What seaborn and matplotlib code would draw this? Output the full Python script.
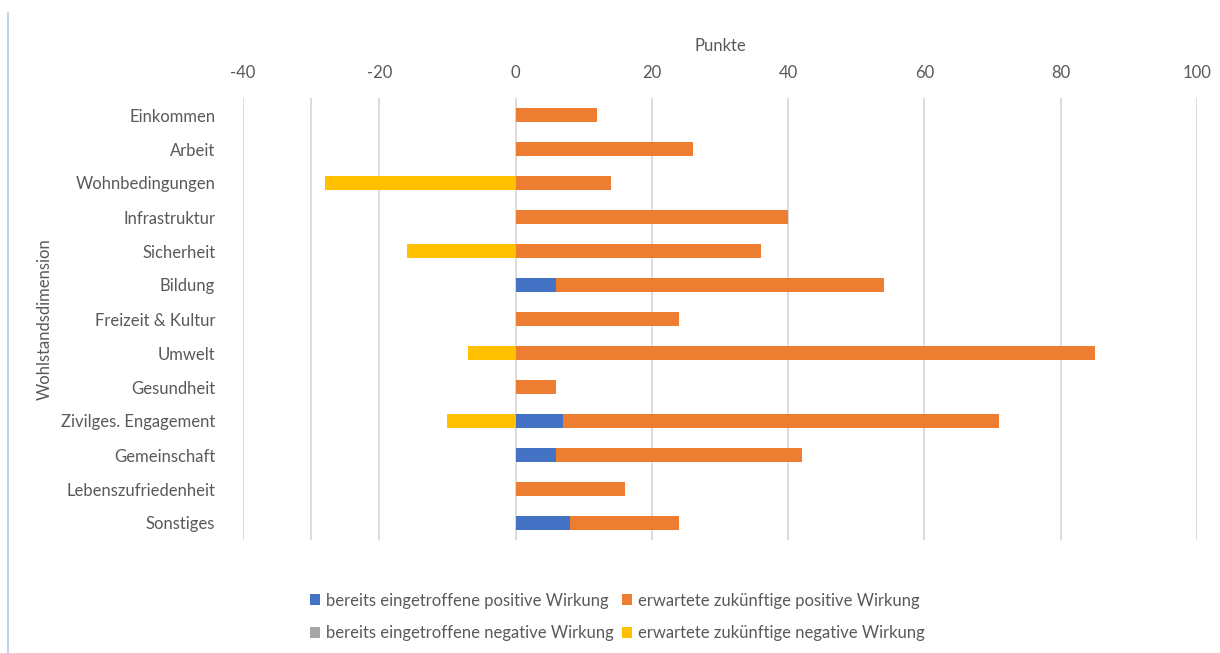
import matplotlib
matplotlib.use("Agg")
import matplotlib.pyplot as plt
from matplotlib.lines import Line2D
from matplotlib.patches import Patch
import seaborn as sns
import pandas as pd

categories = [
    "Einkommen", "Arbeit", "Wohnbedingungen", "Infrastruktur", "Sicherheit",
    "Bildung", "Freizeit & Kultur", "Umwelt", "Gesundheit",
    "Zivilges. Engagement", "Gemeinschaft", "Lebenszufriedenheit", "Sonstiges",
]
pos_occurred = [0, 0, 0, 0, 0, 6, 0, 0, 0, 7, 6, 0, 8]
pos_expected = [12, 26, 14, 40, 36, 48, 24, 85, 6, 64, 36, 16, 16]
neg_occurred = [0, 0, 0, 0, 0, 0, 0, 0, 0, 0, 0, 0, 0]
neg_expected = [0, 0, -28, 0, -16, 0, 0, -7, 0, -10, 0, 0, 0]

series_labels = [
    "bereits eingetroffene positive Wirkung",
    "erwartete zukünftige positive Wirkung",
    "bereits eingetroffene negative Wirkung",
    "erwartete zukünftige negative Wirkung",
]
colors = ["#4472C4", "#ED7D31", "#A5A5A5", "#FFC000"]
text_color = "#595959"

df = pd.DataFrame({
    "Dimension": categories,
    "pos_occ": pos_occurred,
    "pos_total": [a + b for a, b in zip(pos_occurred, pos_expected)],
    "neg_occ": neg_occurred,
    "neg_total": [a + b for a, b in zip(neg_occurred, neg_expected)],
})

sns.set_theme(style="white")
plt.rcParams["font.family"] = ["Lato", "DejaVu Sans"]
plt.rcParams["axes.unicode_minus"] = False

W, H = 1220, 653
fig = plt.figure(figsize=(W / 100, H / 100), dpi=100)
ax = fig.add_axes([243 / W, 1 - 540 / H, (1197 - 243) / W, (540 - 98) / H])

# Stacked bars: the cumulative totals first, the "already occurred" parts on top
for col, color in [("pos_total", colors[1]), ("pos_occ", colors[0]),
                   ("neg_total", colors[3]), ("neg_occ", colors[2])]:
    sns.barplot(data=df, x=col, y="Dimension", orient="h", color=color,
                width=0.4, linewidth=0, saturation=1, ax=ax, zorder=3)

ax.set_xlim(-40, 100)
ax.set_ylim(12.5, -0.5)
ax.set_xticks(range(-40, 101, 20))
grid_positions = [-40, -30, -20, 0, 20, 40, 60, 80, 100]
for gx in grid_positions:
    ax.axvline(gx, color="#D9D9D9", lw=1.3, zorder=1)

fs = 12
ax.xaxis.tick_top()
ax.xaxis.set_label_position("top")
ax.tick_params(axis="x", length=0, pad=12, labelsize=fs, labelcolor=text_color)
ax.tick_params(axis="y", length=0, pad=20, labelsize=fs, labelcolor=text_color)
ax.set_xlabel("Punkte", fontsize=fs, color=text_color, labelpad=10)
ax.set_ylabel("Wohlstandsdimension", fontsize=fs, color=text_color)
ax.yaxis.set_label_coords((53 - 243) / (1197 - 243), 0.5)
for s in ax.spines.values():
    s.set_visible(False)

handles = [Patch(facecolor=c, edgecolor="none") for c in colors]
order = [0, 2, 1, 3]
fig.legend([handles[i] for i in order], [series_labels[i] for i in order],
           loc="center", bbox_to_anchor=(617 / W, 1 - 617 / H), ncol=2,
           frameon=False, fontsize=fs, labelcolor=text_color,
           handlelength=0.6, handleheight=0.6, handletextpad=0.35,
           columnspacing=0.5, labelspacing=1.0)

fig.add_artist(Line2D([8 / W, 8 / W], [0, 1 - 13 / H], color="#B4C7E7", lw=1.2))

fig.savefig("out.png", dpi=100)
